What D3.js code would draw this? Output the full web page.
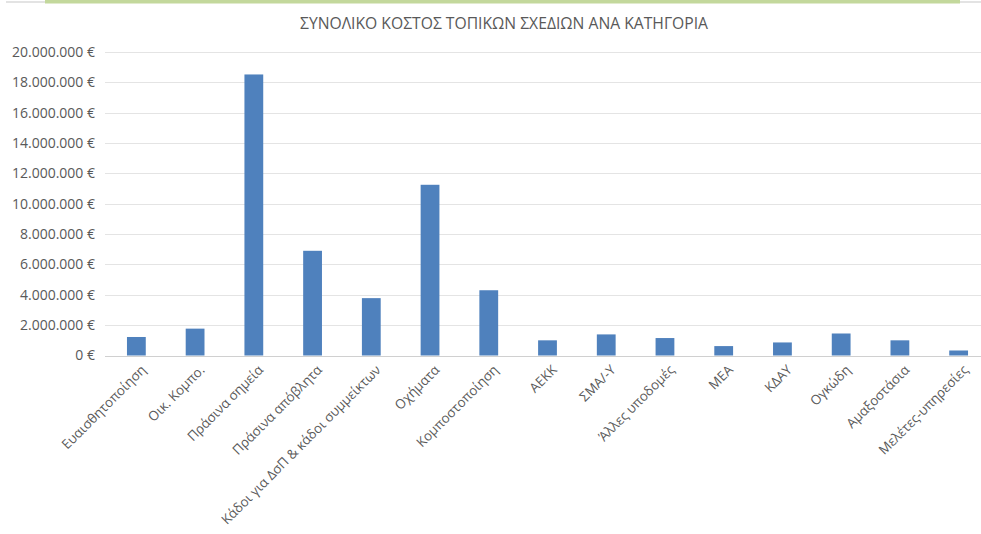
<!DOCTYPE html>
<html><head><meta charset="utf-8">
<script src="https://cdn.jsdelivr.net/npm/d3@7"></script>
<style>body{margin:0;background:#fff;}svg{display:block;font-family:"Open Sans",sans-serif;}</style>
</head><body><svg id="c" width="981" height="534"></svg>
<script>
const categories = ["Ευαισθητοποίηση","Οικ. Κομπο.","Πράσινα σημεία","Πράσινα απόβλητα","Κάδοι για ΔσΠ & κάδοι συμμείκτων","Οχήματα","Κομποστοποίηση","ΑΕΚΚ","ΣΜΑ/-Υ","Άλλες υποδομές","ΜΕΑ","ΚΔΑΥ","Ογκώδη","Αμαξοστάσια","Μελέτες-υπηρεσίες"];
const values = [1220000,1770000,18520000,6900000,3780000,11250000,4300000,1000000,1390000,1150000,620000,860000,1450000,1000000,330000];
const yTicks = [0,2000000,4000000,6000000,8000000,10000000,12000000,14000000,16000000,18000000,20000000];
const title = "ΣΥΝΟΛΙΚΟ ΚΟΣΤΟΣ ΤΟΠΙΚΩΝ ΣΧΕΔΙΩΝ ΑΝΑ ΚΑΤΗΓΟΡΙΑ";

const svg = d3.select("#c");
// top decoration
svg.append("rect").attr("x",6).attr("y",1).attr("width",975).attr("height",2).attr("fill","#e3e3e3");
svg.append("rect").attr("x",45).attr("y",0).attr("width",915).attr("height",3.5).attr("fill","#c3d89c");

const y = d3.scaleLinear().domain([0,20000000]).range([355.5,52]);
const x = d3.scaleBand().domain(categories).range([107,988]).paddingInner(0.68).paddingOuter(0.34);

const fmt = v => d3.format(",.0f")(v).replace(/,/g,".") + " €";

// gridlines
svg.append("g").selectAll("line").data(yTicks).join("line")
  .attr("x1",105).attr("x2",981).attr("y1",d=>Math.round(y(d))+0.5).attr("y2",d=>Math.round(y(d))+0.5)
  .attr("stroke",d=>d===0?"#d0d0d0":"#e4e4e4").attr("stroke-width",1);

const yAxis = d3.axisLeft(y).tickValues(yTicks).tickFormat(fmt).tickSize(0).tickPadding(0);
const ga = svg.append("g").attr("transform","translate(95,0)").call(yAxis);
ga.select(".domain").remove();
ga.selectAll("text").attr("fill","#595959").style("font-size","14px").style("font-family","'Open Sans',sans-serif");

// bars
svg.append("g").selectAll("rect").data(values).join("rect")
  .attr("x",(d,i)=>x(categories[i]))
  .attr("width",x.bandwidth())
  .attr("y",d=>y(d))
  .attr("height",d=>y(0)-y(d))
  .attr("fill","#4f81bd");

// x labels
const xAxis = d3.axisBottom(x).tickSize(0).tickPadding(0);
const gx = svg.append("g").attr("transform","translate(0,355.5)").call(xAxis);
gx.select(".domain").remove();
gx.selectAll("text")
  .attr("fill","#595959").style("font-size","13.3px").style("font-family","'Open Sans',sans-serif")
  .attr("text-anchor","end")
  .attr("transform","translate(7,12) rotate(-45)")
  .attr("dy","0.35em").attr("y",0);

svg.append("text").attr("x",504).attr("y",29).attr("text-anchor","middle")
  .attr("fill","#595959").style("font-size","16px")
  .attr("textLength",408).attr("lengthAdjust","spacingAndGlyphs").text(title);
</script></body></html>
